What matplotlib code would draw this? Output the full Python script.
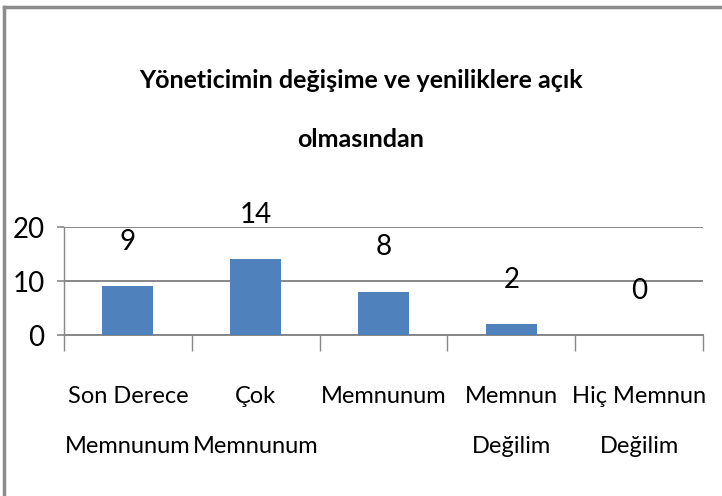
import matplotlib
matplotlib.use("Agg")
import matplotlib.pyplot as plt
from matplotlib.lines import Line2D

categories = ["Son Derece\nMemnunum", "Çok\nMemnunum", "Memnunum",
              "Memnun\nDeğilim", "Hiç Memnun\nDeğilim"]
values = [9, 14, 8, 2, 0]
y_ticks = [0, 10, 20]
title = "Yöneticimin değişime ve yeniliklere açık\nolmasından"

plt.rcParams['font.family'] = ['Lato', 'DejaVu Sans']
GRAY = '#878787'
BAR = '#4F81BD'

fig = plt.figure(figsize=(7.22, 4.96), dpi=100)
ax = fig.add_axes([64 / 722, 1 - 335 / 496, (703 - 64) / 722, (335 - 227) / 496])

x = list(range(len(values)))
ax.bar(x, values, width=0.4, color=BAR, zorder=3)
for xi, v in zip(x, values):
    ax.annotate(str(v), (xi, v), xytext=(0, 32), textcoords='offset points',
                ha='center', va='center', fontsize=20)

ax.set_xlim(-0.5, len(values) - 0.5)
ax.set_ylim(0, 20)
ax.set_yticks(y_ticks)
ax.set_yticklabels([str(t) for t in y_ticks], fontsize=20)
ax.tick_params(axis='y', length=5, width=1.2, color=GRAY, pad=9)
ax.yaxis.grid(True, color=GRAY, linewidth=1.4, zorder=0)

# boundary ticks (major) and centred category labels (minor)
ax.set_xticks([i - 0.5 for i in range(len(values) + 1)])
ax.set_xticklabels([])
ax.tick_params(axis='x', which='major', length=11.5, width=1.0, color=GRAY)
ax.set_xticks(x, minor=True)
ax.set_xticklabels(categories, minor=True, fontsize=17, va='top', linespacing=2.7)
ax.tick_params(axis='x', which='minor', length=0, pad=37)

for s in ['top', 'right']:
    ax.spines[s].set_visible(False)
ax.spines['bottom'].set_color(GRAY)
ax.spines['bottom'].set_linewidth(1.4)
ax.spines['left'].set_color(GRAY)
ax.spines['left'].set_linewidth(1.0)

fig.text(0.5, 1 - 110 / 496, title, ha='center', va='center', fontsize=18,
         fontweight='bold', linespacing=2.85)

# chart frame (top and left edges visible)
fig.add_artist(Line2D([4 / 722, 1], [1 - 7 / 496, 1 - 7 / 496],
                      transform=fig.transFigure, color='#8c8c8c', linewidth=2.5))
fig.add_artist(Line2D([4 / 722, 4 / 722], [0, 1 - 7 / 496],
                      transform=fig.transFigure, color='#8c8c8c', linewidth=2.5))

fig.savefig('out.png', dpi=100)
